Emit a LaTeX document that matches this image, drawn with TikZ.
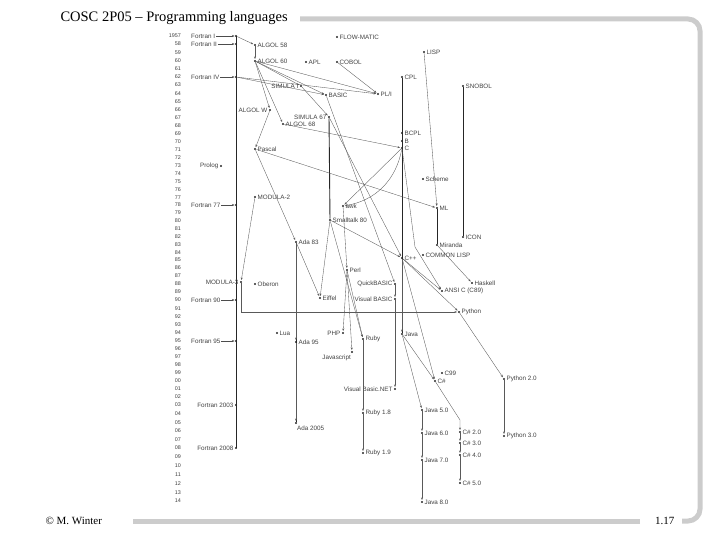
\documentclass[tikz,border=0pt]{standalone}
\usepackage{fontspec}
\setmainfont{Liberation Serif}
\newfontfamily\gill{Liberation Sans}
\usetikzlibrary{arrows.meta}

\tikzset{
  dot/.style={circle,fill=black!85,inner sep=0pt,minimum size=2.4pt},
  lang/.style={font=\gill\fontsize{6.3}{7}\selectfont,inner sep=1pt,text=black!75},
  yr/.style={font=\gill\fontsize{5.4}{6}\selectfont,inner sep=1pt,text=black!75},
  infl/.style={-{Stealth[length=2.6pt,width=2pt]},black!65,line width=0.35pt,shorten >=0.6pt},
  heavy/.style={black!85,line width=0.9pt},
}

\begin{document}
\begin{tikzpicture}[x=1pt,y=-1pt]
\useasboundingbox (0,0) rectangle (720,540);
% slide frame
\draw[black!20,line width=5pt,rounded corners=12pt] (300,19) -- (700,19) -- (700,521) -- (682,521);
\draw[black!20,line width=5pt] (640,521) -- (133,521);
\node[anchor=west,font=\fontsize{14.5}{16}\selectfont] (title) at (57,18) {COSC 2P05 -- Programming languages};
\node[anchor=west,font=\fontsize{11}{13}\selectfont] (author) at (42,521) {\textcopyright{} M. Winter};
\node[anchor=east,font=\fontsize{11}{13}\selectfont] (page) at (678,521) {1.17};

% years
\foreach \t/\y in {1957/36,58/44,59/52.4,60/60.6,61/68.8,62/77,63/85.1,64/93.2,65/101.3,66/109.4,67/117.5,
  68/125.5,69/133.6,70/141.7,71/149.8,72/157.9,73/166,74/173.8,75/181.6,76/189.4,77/197.2,78/205,
  79/212.9,80/220.8,81/228.6,82/236.5,83/244.4,84/252.3,85/260.1,86/268,87/276,88/284,89/292,90/300,
  91/308.2,92/316.4,93/324.6,94/332.8,95/341,96/349,97/357,98/365,99/373,00/381,01/389,02/397,03/405,
  04/413.6,05/422.2,06/430.8,07/439.4,08/448,09/456.8,10/465.7,11/474.5,12/483.3,13/492.2,14/501}
  \node[yr,anchor=east] at (182,\y) {\t};

% Fortran
\draw[heavy] (236,36) -- (236,448);
\foreach \n/\y/\t in {fortA/36/Fortran I,fortB/44/Fortran II,fortC/77/Fortran IV,fortD/205/Fortran 77,
  fortE/300/Fortran 90,fortF/341/Fortran 95}{
  \node[dot] (\n) at (236,\y) {};
  \node[lang,anchor=west] (\n l) at (190,\y) {\t};
  \draw[-{Stealth[length=2.6pt,width=2pt]},black!70,line width=0.35pt] (\n l.east) -- (\n.west);
}
\foreach \n/\y/\t in {fortG/405/Fortran 2003,fortH/448/Fortran 2008}{
  \node[dot] (\n) at (236,\y) {};
  \node[lang,anchor=east] at (\n.west) {\t};
}

% languages, text to the right
\foreach \n/\x/\y/\t in {algolA/255/45/ALGOL 58,algolB/255/61/ALGOL 60,flow/337/37/FLOW-MATIC,
  apl/306/62/APL,cobol/337/62/COBOL,pli/378/94/{PL/I},cpl/402/77/CPL,basic/326/95/BASIC,
  lisp/424/52/LISP,snobol/463/86/SNOBOL,algolC/283/124/ALGOL 68,bcpl/402/133/BCPL,b/402/141/B,
  c/402/148/C,pascal/255/149/Pascal,modulaB/255/197/MODULA-2,scheme/423/179/Scheme,ml/437/208/ML,
  awk/343/206/awk,smalltalk/330/220/Smalltalk 80,icon/463/237/ICON,adaA/296/242/Ada 83,
  miranda/437/245/Miranda,clisp/423/255/COMMON LISP,cpp/402/258/C++,perl/347/270/Perl,
  haskell/472/283/Haskell,oberon/255/284/Oberon,ansic/442/291/ANSI C (C89),eiffel/320/298/Eiffel,
  python/459/312/Python,lua/277/333/Lua,java/402/334/Java,ruby/363/339/Ruby,adaB/296/342/Ada 95,
  cnn/442/373/C99,cs/435/381/C\#,pythonB/504/379/Python 2.0,rubyB/363/413/Ruby 1.8,
  javaB/422/410/Java 5.0,csB/460/432/C\# 2.0,csC/460/443/C\# 3.0,csD/460/455/C\# 4.0,
  csE/460/483/C\# 5.0,javaC/422/433/Java 6.0,javaD/422/460/Java 7.0,javaE/422/502/Java 8.0,
  pythonC/504/436/Python 3.0,rubyC/363/453/Ruby 1.9}{
  \node[dot] (\n) at (\x,\y) {};
  \node[lang,anchor=west] at (\n.east) {\t};
}
% languages, text to the left
\foreach \n/\x/\y/\t in {simulaA/301/86/SIMULA I,simulaB/329/117/SIMULA 67,algolW/270/110/ALGOL W,
  prolog/221/166/Prolog,modulaC/241/282/MODULA-3,qbasic/395/284/QuickBASIC,
  vbasic/395/299/Visual BASIC,php/343/333/PHP,vbnet/395/389/Visual Basic.NET}{
  \node[dot] (\n) at (\x,\y) {};
  \node[lang,anchor=east] at (\n.west) {\t};
}
\node[dot] (js) at (352,352) {};
\node[lang,anchor=north east] at (js.south) {Javascript};
\node[dot] (adaC) at (296,423) {};
\node[lang,anchor=north west] at (adaC.south) {Ada 2005};

% heavy lines
\draw[heavy] (cpl) -- (java);
\draw[heavy] (snobol) -- (icon);
\draw[heavy] (ml) -- (miranda);
\draw[heavy] (simulaB) -- (smalltalk);
\draw[heavy] (adaA) -- (adaC);

% influences
\foreach \a/\b in {fortA/algolA,algolA/algolB,algolB/algolW,algolB/algolC,algolB/simulaA,
  algolB/pli,fortC/pli,cobol/pli,algolB/basic,fortC/basic,simulaA/simulaB,algolW/pascal,
  algolC/c,pascal/ml,pascal/adaA,modulaB/modulaC,lisp/ml,c/awk,awk/perl,smalltalk/ruby,
  adaA/eiffel,perl/php,perl/ruby,perl/js,simulaB/cpp,miranda/haskell,python/pythonB,
  java/javaB,javaB/javaC,javaC/javaD,javaD/javaE,csB/csC,csC/csD,csD/csE,
  ruby/rubyB,rubyB/rubyC,pythonB/pythonC,adaA/adaB,adaB/adaC,cpp/java,basic/qbasic,
  qbasic/vbasic,vbasic/vbnet,java/cs,cpp/cs,smalltalk/eiffel,cpp/ansic,smalltalk/cpp,cpp/python}
  \draw[infl] (\a) -- (\b);
\draw[infl] (c) to[bend left=35] (awk);
\draw[infl] (c) -- (415,247) -- (ansic);
\draw[infl] (cs) -- (460,420) -- (csB);
\draw[infl] (modulaC) |- (python);
\end{tikzpicture}
\end{document}
